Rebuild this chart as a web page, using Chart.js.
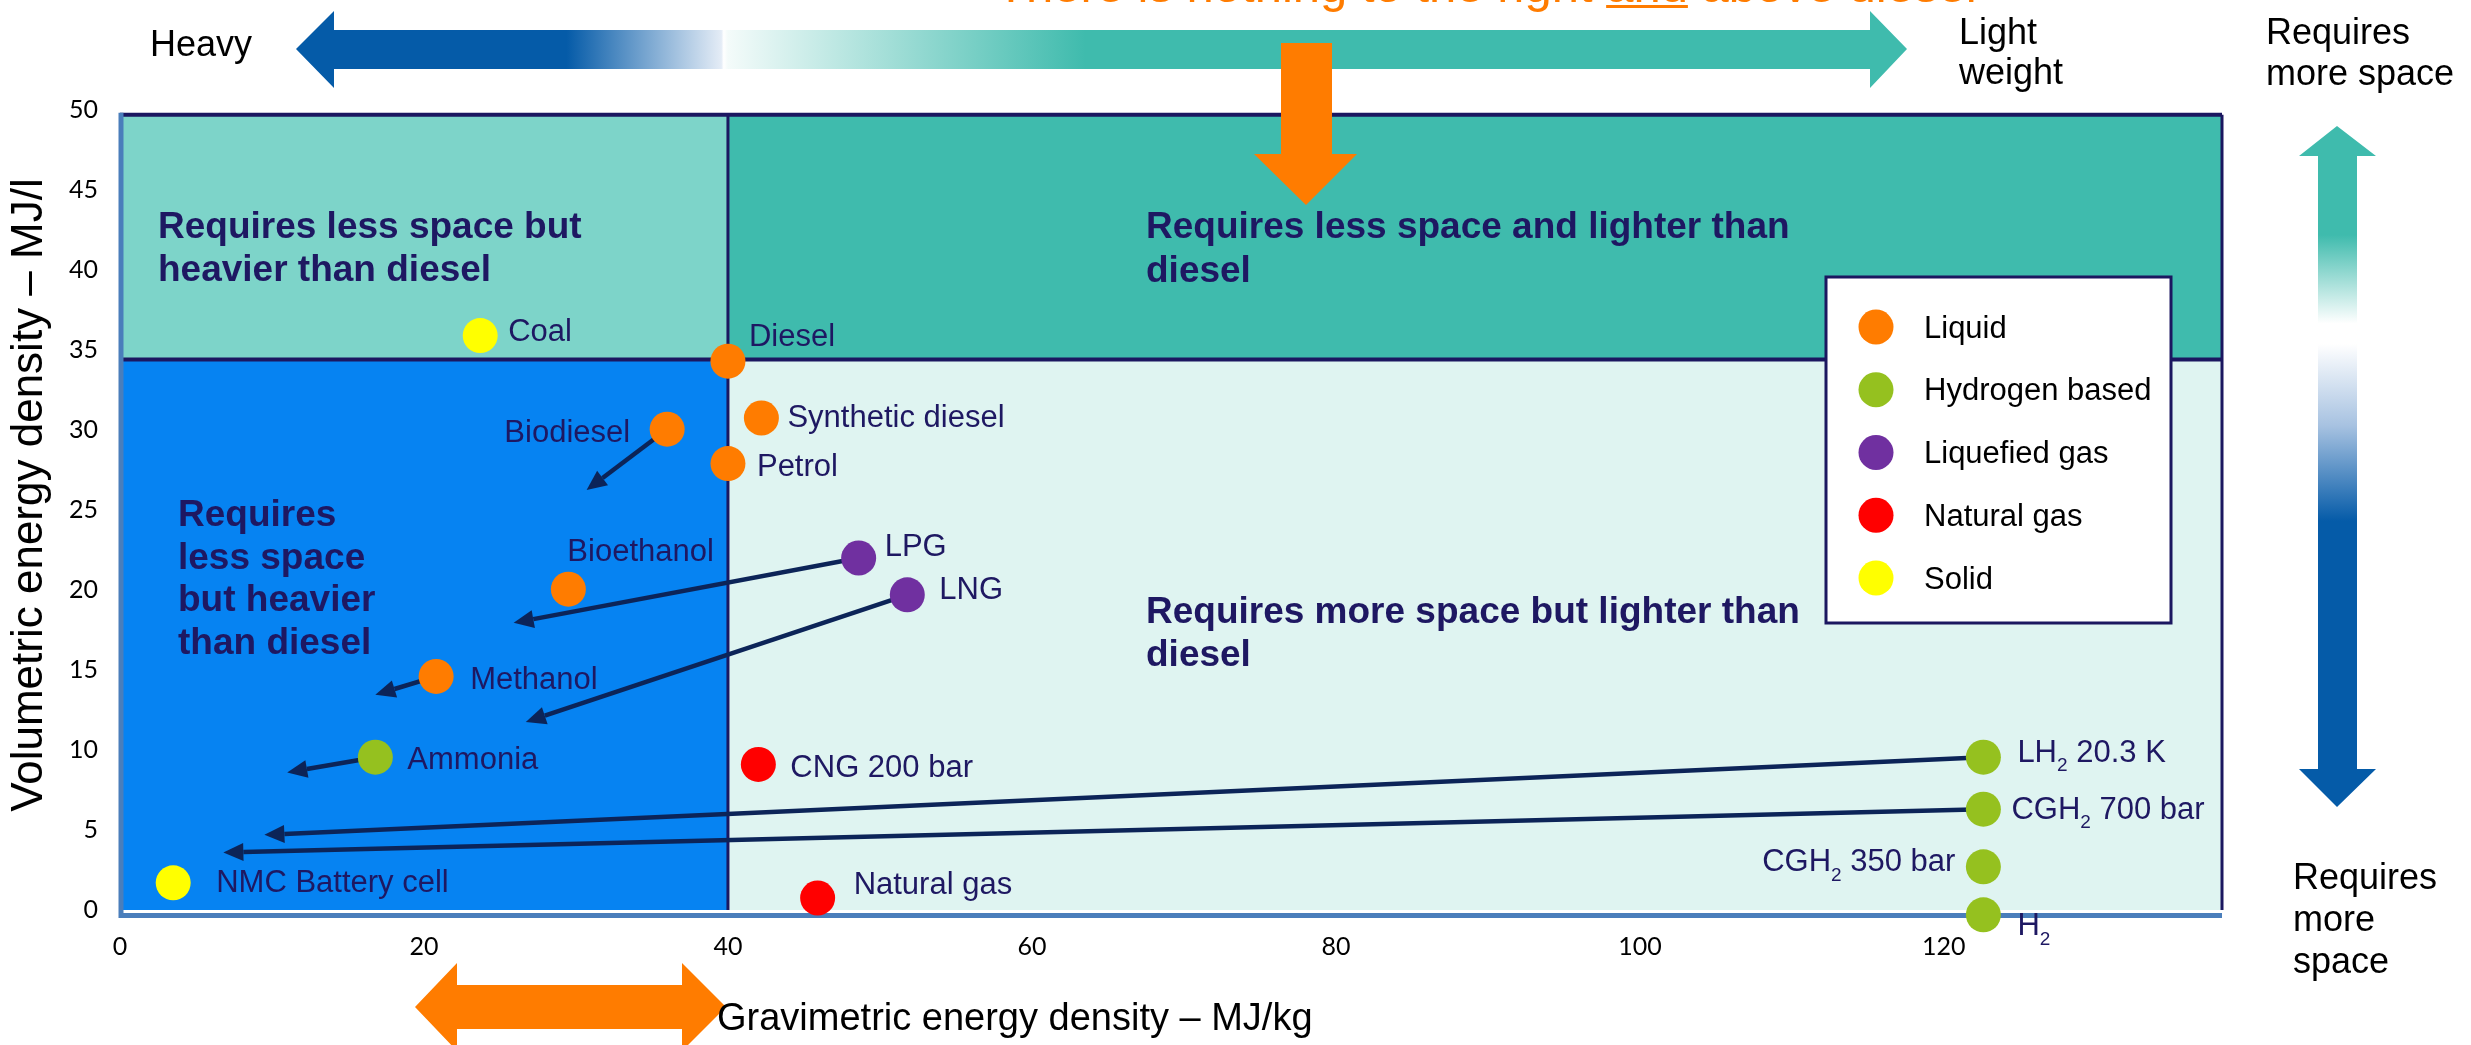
<!DOCTYPE html>
<html>
<head>
<meta charset="utf-8">
<script src="https://cdn.jsdelivr.net/npm/chart.js@4.4.1/dist/chart.umd.min.js"></script>
<style>
  html, body { margin: 0; padding: 0; background: #fff; }
  canvas { display: block; }
</style>
</head>
<body>
<canvas id="energyChart" width="2471" height="1045"></canvas>
<script>
// fuel groups and their colours
const categories = ["Liquid", "Hydrogen based", "Liquefied gas", "Natural gas", "Solid"];
const categoryColors = ["#FF7C00", "#95C11F", "#7030A0", "#FF0000", "#FFFF00"];

// x = gravimetric MJ/kg, y = volumetric MJ/l
const liquidNames = ["Diesel", "Synthetic diesel", "Biodiesel", "Petrol", "Bioethanol", "Methanol"];
const liquidMJkg = [40.0, 42.2, 36.0, 40.0, 29.5, 20.8];
const liquidMJl = [34.3, 30.75, 30.05, 27.9, 20.05, 14.6];

const hydrogenNames = ["Ammonia", "LH₂ 20.3 K", "CGH₂ 700 bar", "CGH₂ 350 bar", "H₂"];
const hydrogenMJkg = [16.8, 122.6, 122.6, 122.6, 122.6];
const hydrogenMJl = [9.55, 9.55, 6.3, 2.7, -0.3];

const liquefiedNames = ["LPG", "LNG"];
const liquefiedMJkg = [48.6, 51.8];
const liquefiedMJl = [22.0, 19.7];

const natGasNames = ["CNG 200 bar", "Natural gas"];
const natGasMJkg = [42.0, 45.9];
const natGasMJl = [9.1, 0.75];

const solidNames = ["Coal", "NMC Battery cell"];
const solidMJkg = [23.7, 3.5];
const solidMJl = [35.9, 1.7];

// arrows: from a fuel to where it ends up
const arrowFrom = ["Biodiesel", "LPG", "LNG", "Methanol", "Ammonia", "LH₂ 20.3 K", "CGH₂ 700 bar"];
const arrowToMJkg = [30.7, 25.9, 26.7, 16.8, 11.0, 9.5, 6.8];
const arrowToMJl = [26.25, 17.95, 11.75, 13.45, 8.6, 4.7, 3.6];

// diesel reference splits the plot in four
const dieselMJkg = 40;
const dieselMJl = 34.4;
const frameTopMJl = 49.7;

const xTicksStep = 20;
const yTicksStep = 5;

const NAVY = "#1E1862";
const ARROW_NAVY = "#0C2458";
const ORANGE = "#FF7C00";
const ARIAL = '"Liberation Sans", Arial, sans-serif';

// where each label sits next to its dot (pixels)
const labelPlacement = {
  "Coal": [28, -3, "left"],
  "Diesel": [21, -24, "left"],
  "Biodiesel": [-37, 4, "right"],
  "Synthetic diesel": [26, 0, "left"],
  "Petrol": [29, 4, "left"],
  "LPG": [26, -11, "left"],
  "LNG": [32, -4, "left"],
  "Bioethanol": [-1, -37, "left"],
  "Methanol": [34, 4, "left"],
  "Ammonia": [32, 3, "left"],
  "CNG 200 bar": [32, 4, "left"],
  "Natural gas": [36, -13, "left"],
  "NMC Battery cell": [43, 1, "left"],
  "LH₂ 20.3 K": [34, -4, "left"],
  "CGH₂ 700 bar": [28, 1, "left"],
  "CGH₂ 350 bar": [-28, -4, "right"],
  "H₂": [34, 12, "left"],
};

const groups = [
  [liquidNames, liquidMJkg, liquidMJl],
  [hydrogenNames, hydrogenMJkg, hydrogenMJl],
  [liquefiedNames, liquefiedMJkg, liquefiedMJl],
  [natGasNames, natGasMJkg, natGasMJl],
  [solidNames, solidMJkg, solidMJl],
];

const datasets = groups.map(([names, xs, ys], i) => ({
  label: categories[i],
  data: names.map((n, j) => ({ x: xs[j], y: ys[j], name: n })),
  backgroundColor: categoryColors[i],
  borderWidth: 0,
  pointRadius: 17.5,
  clip: false,
}));

// text with a subscript 2
function drawSubText(ctx, text, x, y, align, size, color) {
  const parts = text.split("₂");
  const mainFont = `${size}px ${ARIAL}`;
  const subFont = `${Math.round(size * 0.6)}px ${ARIAL}`;
  ctx.font = subFont;
  const subW = ctx.measureText("2").width;
  ctx.font = mainFont;
  let total = 0;
  parts.forEach((p, i) => {
    total += ctx.measureText(p).width;
    if (i < parts.length - 1) total += subW;
  });
  let cx = align === "right" ? x - total : x;
  ctx.fillStyle = color;
  ctx.textAlign = "left";
  ctx.textBaseline = "middle";
  parts.forEach((p, i) => {
    ctx.font = mainFont;
    ctx.fillText(p, cx, y);
    cx += ctx.measureText(p).width;
    if (i < parts.length - 1) {
      ctx.font = subFont;
      ctx.fillText("2", cx, y + size * 0.42);
      cx += subW;
    }
  });
}

function drawLines(ctx, lines, x, y0, step, font, color) {
  ctx.font = font;
  ctx.fillStyle = color;
  ctx.textAlign = "left";
  ctx.textBaseline = "middle";
  lines.forEach((l, i) => ctx.fillText(l, x, y0 + i * step));
}

function arrowLine(ctx, x1, y1, x2, y2) {
  const a = Math.atan2(y2 - y1, x2 - x1);
  const len = 20, half = 9;
  const bx = x2 - Math.cos(a) * len;
  const by = y2 - Math.sin(a) * len;
  ctx.strokeStyle = ARROW_NAVY;
  ctx.lineWidth = 4.5;
  ctx.beginPath();
  ctx.moveTo(x1, y1);
  ctx.lineTo(bx, by);
  ctx.stroke();
  ctx.fillStyle = ARROW_NAVY;
  ctx.beginPath();
  ctx.moveTo(x2, y2);
  ctx.lineTo(bx - Math.sin(a) * half, by + Math.cos(a) * half);
  ctx.lineTo(bx + Math.sin(a) * half, by - Math.cos(a) * half);
  ctx.closePath();
  ctx.fill();
}

function polygon(ctx, pts, fill) {
  ctx.fillStyle = fill;
  ctx.beginPath();
  pts.forEach(([px, py], i) => (i ? ctx.lineTo(px, py) : ctx.moveTo(px, py)));
  ctx.closePath();
  ctx.fill();
}

const annotations = {
  id: "annotations",
  beforeDraw(chart) {
    const ctx = chart.ctx;
    ctx.save();
    ctx.fillStyle = "#fff";
    ctx.fillRect(0, 0, chart.width, chart.height);
    ctx.restore();
  },
  beforeDatasetsDraw(chart) {
    const { ctx, chartArea: a, scales: { x, y } } = chart;
    const dx = x.getPixelForValue(dieselMJkg);
    const dy = y.getPixelForValue(dieselMJl);
    const top = y.getPixelForValue(frameTopMJl);
    ctx.save();
    // four quadrants
    ctx.fillStyle = "#7DD4C9";
    ctx.fillRect(a.left, top, dx - a.left, dy - top);
    ctx.fillStyle = "#3FBBAD";
    ctx.fillRect(dx, top, a.right - dx, dy - top);
    ctx.fillStyle = "#0683F2";
    ctx.fillRect(a.left, dy, dx - a.left, a.bottom - dy);
    ctx.fillStyle = "#DFF4F1";
    ctx.fillRect(dx, dy, a.right - dx, a.bottom - dy);

    // dividers and frame
    ctx.strokeStyle = "#1B1760";
    ctx.lineWidth = 3;
    ctx.beginPath();
    ctx.moveTo(dx, top); ctx.lineTo(dx, a.bottom);
    ctx.stroke();
    ctx.lineWidth = 4;
    ctx.beginPath();
    ctx.moveTo(a.left, dy); ctx.lineTo(a.right, dy);
    ctx.moveTo(a.left, top); ctx.lineTo(a.right, top);
    ctx.stroke();
    ctx.lineWidth = 3;
    ctx.beginPath();
    ctx.moveTo(a.right, top); ctx.lineTo(a.right, a.bottom);
    ctx.stroke();
    ctx.strokeStyle = "#4A7EBB";
    ctx.lineWidth = 5;
    ctx.beginPath();
    ctx.moveTo(a.left + 1, top - 2); ctx.lineTo(a.left + 1, a.bottom + 8);
    ctx.moveTo(a.left - 1, a.bottom + 5.5); ctx.lineTo(a.right, a.bottom + 5.5);
    ctx.stroke();

    // movement arrows
    const all = chart.data.datasets.flatMap((d) => d.data);
    arrowFrom.forEach((name, i) => {
      const p = all.find((d) => d.name === name);
      arrowLine(ctx,
        x.getPixelForValue(p.x), y.getPixelForValue(p.y),
        x.getPixelForValue(arrowToMJkg[i]), y.getPixelForValue(arrowToMJl[i]));
    });
    ctx.restore();
  },
  afterDatasetsDraw(chart) {
    const { ctx } = chart;
    ctx.save();

    // point labels
    chart.data.datasets.forEach((ds, di) => {
      chart.getDatasetMeta(di).data.forEach((el, j) => {
        const name = ds.data[j].name;
        const [ox, oy, align] = labelPlacement[name];
        drawSubText(ctx, name, el.x + ox, el.y + oy, align, 31, NAVY);
      });
    });

    // quadrant titles
    const bold = `bold 37px ${ARIAL}`;
    drawLines(ctx, ["Requires less space but", "heavier than diesel"], 158, 228, 43, bold, NAVY);
    drawLines(ctx, ["Requires less space and lighter than", "diesel"], 1146, 228, 44, bold, NAVY);
    drawLines(ctx, ["Requires", "less space", "but heavier", "than diesel"], 178, 516, 42.5, bold, NAVY);
    drawLines(ctx, ["Requires more space but lighter than", "diesel"], 1146, 613, 43, bold, NAVY);

    // legend
    ctx.fillStyle = "#fff";
    ctx.fillRect(1826, 277, 345, 346);
    ctx.strokeStyle = "#1B1760";
    ctx.lineWidth = 3;
    ctx.strokeRect(1826, 277, 345, 346);
    categories.forEach((c, i) => {
      const ly = 327 + i * 62.75;
      ctx.fillStyle = categoryColors[i];
      ctx.beginPath();
      ctx.arc(1876, ly, 17.5, 0, Math.PI * 2);
      ctx.fill();
      ctx.font = `31px ${ARIAL}`;
      ctx.fillStyle = "#000";
      ctx.textAlign = "left";
      ctx.textBaseline = "middle";
      ctx.fillText(c, 1924, ly + 2);
    });

    // heavy / light arrow on top
    const g = ctx.createLinearGradient(296, 0, 1907, 0);
    g.addColorStop(0, "#055BA8");
    g.addColorStop(0.168, "#055BA8");
    g.addColorStop(0.264, "#E4ECF6");
    g.addColorStop(0.2655, "#FFFFFF");
    g.addColorStop(0.268, "#F4FBFA");
    g.addColorStop(0.49, "#3FBBAD");
    g.addColorStop(1, "#3FBBAD");
    polygon(ctx, [[296, 49], [334, 11], [334, 30], [1870, 30], [1870, 11], [1907, 49],
      [1870, 88], [1870, 69], [334, 69], [334, 88]], g);

    // space arrow on the right
    const gv = ctx.createLinearGradient(0, 126, 0, 807);
    gv.addColorStop(0, "#3FBBAD");
    gv.addColorStop(0.16, "#3FBBAD");
    gv.addColorStop(0.29, "#FFFFFF");
    gv.addColorStop(0.32, "#FFFFFF");
    gv.addColorStop(0.44, "#A7C2E1");
    gv.addColorStop(0.58, "#055BA8");
    gv.addColorStop(1, "#055BA8");
    polygon(ctx, [[2337, 126], [2376, 156], [2357, 156], [2357, 769], [2376, 769], [2337, 807],
      [2299, 769], [2318, 769], [2318, 156], [2299, 156]], gv);

    // orange arrows
    polygon(ctx, [[1281, 43], [1332, 43], [1332, 154], [1357, 154], [1306, 205], [1254, 154], [1281, 154]], ORANGE);
    polygon(ctx, [[415, 1007], [457, 963], [457, 985], [682, 985], [682, 963], [726, 1007],
      [682, 1051], [682, 1029], [457, 1029], [457, 1051]], ORANGE);

    // headline, cut off at the top of the picture
    ctx.font = `49px ${ARIAL}`;
    ctx.fillStyle = ORANGE;
    ctx.textAlign = "left";
    ctx.textBaseline = "alphabetic";
    const head1 = "There is nothing to the right ";
    ctx.fillText(head1, 996, 2);
    const w1 = ctx.measureText(head1).width;
    const wAnd = ctx.measureText("and").width;
    ctx.fillText("and above diesel", 996 + w1, 2);
    ctx.fillRect(996 + w1, 5, wAnd, 3);

    // black side texts
    const side = `36px ${ARIAL}`;
    drawLines(ctx, ["Heavy"], 150, 46, 0, side, "#000");
    drawLines(ctx, ["Light", "weight"], 1959, 34, 40, side, "#000");
    drawLines(ctx, ["Requires", "more space"], 2266, 34, 41, side, "#000");
    drawLines(ctx, ["Requires", "more", "space"], 2293, 879, 42, side, "#000");

    // axis titles
    ctx.fillStyle = "#000";
    ctx.font = `38px ${ARIAL}`;
    ctx.textBaseline = "middle";
    ctx.fillText("Gravimetric energy density – MJ/kg", 717, 1020);
    ctx.translate(30, 495);
    ctx.rotate(-Math.PI / 2);
    ctx.textAlign = "center";
    ctx.font = `44px ${ARIAL}`;
    ctx.fillText("Volumetric energy density – MJ/l", 0, 0);
    ctx.restore();
  },
};

const config = {
  type: "scatter",
  data: { datasets },
  options: {
    responsive: false,
    devicePixelRatio: 1,
    animation: false,
    events: [],
    layout: { padding: { top: 110, right: 249, bottom: 0, left: 0 } },
    plugins: {
      legend: { display: false },
      tooltip: { enabled: false },
    },
    scales: {
      x: {
        type: "linear",
        min: 0,
        max: 138.3,
        grid: { display: false, drawTicks: false },
        border: { display: false },
        ticks: {
          stepSize: xTicksStep,
          includeBounds: false,
          padding: 22,
          color: "#000",
          font: { family: "Lato", size: 25 },
        },
        afterFit: (s) => { s.height = 135; },
      },
      y: {
        type: "linear",
        min: 0,
        max: 50,
        grid: { display: false, drawTicks: false },
        border: { display: false },
        ticks: {
          stepSize: yTicksStep,
          padding: 22,
          color: "#000",
          font: { family: "Lato", size: 25 },
        },
        afterFit: (s) => { s.width = 120; },
      },
    },
  },
  plugins: [annotations],
};

new Chart(document.getElementById("energyChart"), config);
</script>
</body>
</html>
